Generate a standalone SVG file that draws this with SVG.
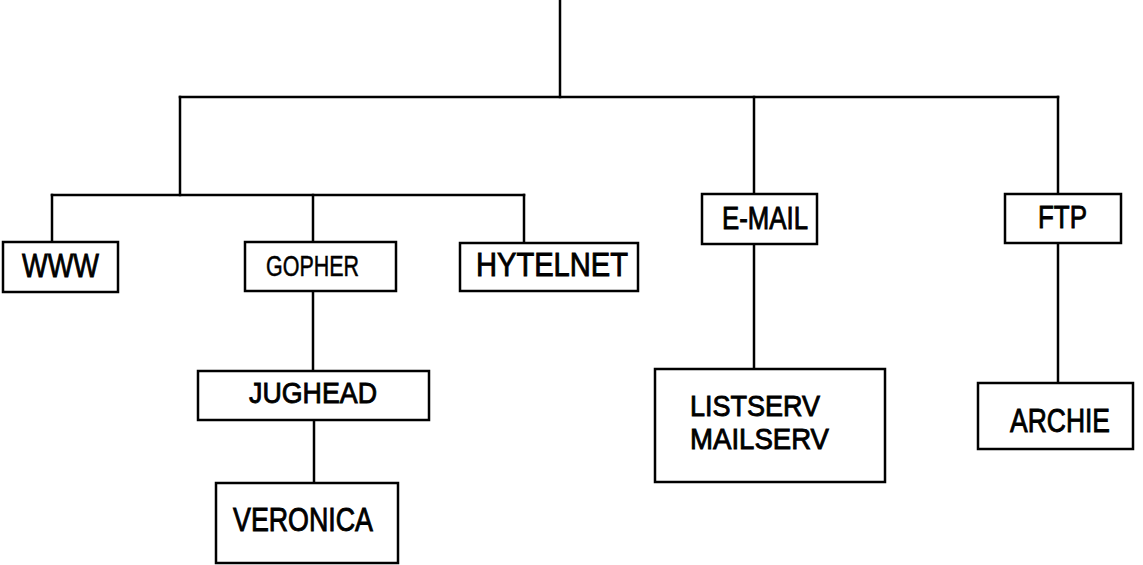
<svg xmlns="http://www.w3.org/2000/svg" width="1143" height="565" viewBox="0 0 1143 565">
<style>
.box{fill:#fff;stroke:#000;stroke-width:2.5}
.ln{fill:none;stroke:#000;stroke-width:2.5;stroke-linecap:square}
text{font-family:"Liberation Sans",Arial,sans-serif;fill:#000;stroke:#000;stroke-width:0.9;font-weight:normal}
</style>
<rect width="1143" height="565" fill="#fff"/>
<g id="connectors">
<path class="ln" d="M560,0 V97"/>
<path class="ln" d="M180,97 H1058"/>
<path class="ln" d="M180,97 V195"/>
<path class="ln" d="M52,195 H524"/>
<path class="ln" d="M52,195 V242"/>
<path class="ln" d="M313,195 V242"/>
<path class="ln" d="M524,195 V243"/>
<path class="ln" d="M754,97 V194"/>
<path class="ln" d="M1058,97 V194"/>
<path class="ln" d="M313,291 V371"/>
<path class="ln" d="M314,420 V483"/>
<path class="ln" d="M754,244 V369"/>
<path class="ln" d="M1058,243 V383"/>
</g>
<g id="www"><rect class="box" x="3" y="242" width="115" height="50"/><text x="22" y="277" font-size="34" textLength="77" lengthAdjust="spacingAndGlyphs">WWW</text></g>
<g id="gopher"><rect class="box" x="245" y="242" width="151" height="49"/><text x="266" y="276" font-size="29" textLength="93" lengthAdjust="spacingAndGlyphs" style="stroke-width:0.5">GOPHER</text></g>
<g id="hytelnet"><rect class="box" x="460" y="243" width="178" height="48"/><text x="476" y="276" font-size="33" textLength="152" lengthAdjust="spacingAndGlyphs">HYTELNET</text></g>
<g id="email"><rect class="box" x="702" y="194" width="115" height="50"/><text x="722" y="229" font-size="32" textLength="86" lengthAdjust="spacingAndGlyphs">E-MAIL</text></g>
<g id="ftp"><rect class="box" x="1005" y="194" width="116" height="49"/><text x="1038" y="228" font-size="32" textLength="49" lengthAdjust="spacingAndGlyphs">FTP</text></g>
<g id="jughead"><rect class="box" x="198" y="371" width="231" height="49"/><text x="249" y="403" font-size="30" textLength="128" lengthAdjust="spacingAndGlyphs">JUGHEAD</text></g>
<g id="veronica"><rect class="box" x="216" y="483" width="182" height="80"/><text x="233" y="531" font-size="33" textLength="140" lengthAdjust="spacingAndGlyphs">VERONICA</text></g>
<g id="listserv"><rect class="box" x="655" y="369" width="230" height="113"/><text x="690" y="416" font-size="29.5" textLength="130" lengthAdjust="spacingAndGlyphs">LISTSERV</text><text x="690" y="449" font-size="29.5" textLength="139" lengthAdjust="spacingAndGlyphs">MAILSERV</text></g>
<g id="archie"><rect class="box" x="978" y="383" width="155" height="66"/><text x="1010" y="432" font-size="33" textLength="100" lengthAdjust="spacingAndGlyphs">ARCHIE</text></g>
</svg>
